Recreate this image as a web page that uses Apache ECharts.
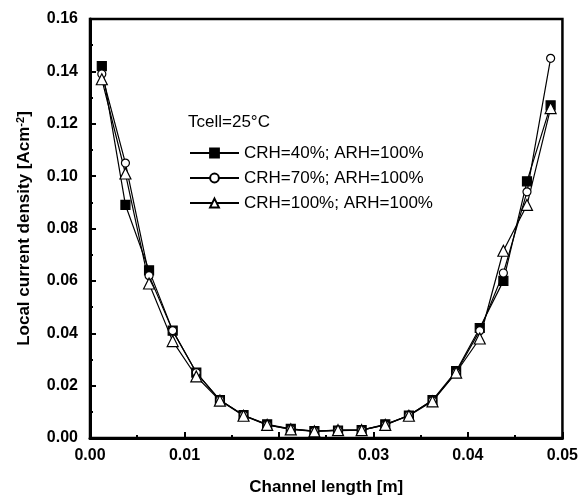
<!DOCTYPE html>
<html>
<head>
<meta charset="utf-8">
<script src="https://cdn.jsdelivr.net/npm/echarts@6/dist/echarts.min.js"></script>
<style>
html,body{margin:0;padding:0;background:#fff;}
#chart{width:581px;height:501px;}
</style>
</head>
<body>
<div id="chart"></div>
<script>
// Channel length positions [m]
var positions = [0.00125, 0.00375, 0.00625, 0.00875, 0.01125, 0.01375, 0.01625, 0.01875, 0.02125, 0.02375,
                 0.02625, 0.02875, 0.03125, 0.03375, 0.03625, 0.03875, 0.04125, 0.04375, 0.04625, 0.04875];
// Local current density [A cm^-2]
var crh40 = [0.142, 0.089, 0.064, 0.041, 0.025, 0.0145, 0.0087, 0.0052, 0.0035, 0.0026,
             0.0028, 0.0030, 0.0052, 0.0086, 0.0145, 0.0255, 0.042, 0.060, 0.098, 0.127];
var crh70 = [0.139, 0.105, 0.062, 0.041, 0.025, 0.0145, 0.0087, 0.0050, 0.0034, 0.0026,
             0.0030, 0.0030, 0.0050, 0.0087, 0.0143, 0.0250, 0.041, 0.063, 0.094, 0.145];
var crh100 = [0.137, 0.101, 0.059, 0.037, 0.0235, 0.0143, 0.0085, 0.0050, 0.0033, 0.0025,
              0.0030, 0.0030, 0.0050, 0.0085, 0.0140, 0.0250, 0.038, 0.0715, 0.089, 0.126];
var seriesNames = ['CRH=40%; ARH=100%', 'CRH=70%; ARH=100%', 'CRH=100%; ARH=100%'];
var xTicks = ['0.00', '0.01', '0.02', '0.03', '0.04', '0.05'];
var yTicks = ['0.00', '0.02', '0.04', '0.06', '0.08', '0.10', '0.12', '0.14', '0.16'];
var annotation = 'Tcell=25°C';

function pairs(xs, ys) { return xs.map(function (x, i) { return [x, ys[i]]; }); }

var chart = echarts.init(document.getElementById('chart'), null, {renderer: 'canvas'});
var font = 'Liberation Sans, Arial, sans-serif';
var black = '#000';

function lineSeries(name, data, symbol, size, fill) {
  return {
    name: name, type: 'line', data: data,
    symbol: symbol, symbolSize: size, showSymbol: true,
    lineStyle: {color: black, width: 1.2},
    itemStyle: {color: fill, borderColor: black, borderWidth: 1.2},
    emphasis: {disabled: true},
    animation: false, z: 3
  };
}

chart.setOption({
  backgroundColor: '#fff',
  animation: false,
  title: {
    text: annotation, left: 183, top: 109,
    textStyle: {fontFamily: font, fontSize: 17, fontWeight: 'normal', color: black}
  },
  legend: {
    orient: 'vertical', left: 184, top: 138,
    itemWidth: 49, itemHeight: 11, itemGap: 5,
    data: seriesNames,
    textStyle: {fontFamily: font, fontSize: 17, color: black, lineHeight: 20},
    selectedMode: false
  },
  grid: {
    left: 90, right: 11, top: 19, bottom: 61,
    show: true, borderColor: black, borderWidth: 2.5, backgroundColor: 'transparent'
  },
  xAxis: {
    type: 'value', min: 0, max: 0.05, interval: 0.01,
    name: 'Channel length [m]', nameLocation: 'middle', nameGap: 41,
    nameTextStyle: {fontFamily: font, fontSize: 17, fontWeight: 'bold', color: black},
    axisLine: {show: true, lineStyle: {color: black, width: 3}},
    axisTick: {show: true, inside: true, length: 6, lineStyle: {color: black, width: 2}},
    minorTick: {show: true, splitNumber: 2, length: 3, lineStyle: {color: black, width: 2}},
    splitLine: {show: false},
    axisLabel: {
      margin: 10, fontFamily: font, fontSize: 16, fontWeight: 'bold', color: black,
      formatter: function (v) { return xTicks[Math.round(v / 0.01)]; }
    }
  },
  yAxis: {
    type: 'value', min: 0, max: 0.16, interval: 0.02,
    name: 'Local current density [Acm{sup|-2}]', nameLocation: 'middle', nameGap: 56, nameRotate: 90,
    nameTextStyle: {
      fontFamily: font, fontSize: 17, fontWeight: 'bold', color: black, padding: [0, 0, 0, 0],
      rich: {sup: {fontFamily: font, fontSize: 11, fontWeight: 'bold', color: black, verticalAlign: 'top', padding: [0, 0, 8, 0]}}
    },
    axisLine: {show: true, lineStyle: {color: black, width: 3}},
    axisTick: {show: true, inside: true, length: 6, lineStyle: {color: black, width: 2}},
    minorTick: {show: true, splitNumber: 2, length: 3, lineStyle: {color: black, width: 2}},
    splitLine: {show: false},
    axisLabel: {
      margin: 12, fontFamily: font, fontSize: 16, fontWeight: 'bold', color: black,
      formatter: function (v) { return yTicks[Math.round(v / 0.02)]; }
    }
  },
  series: [
    lineSeries(seriesNames[0], pairs(positions, crh40), 'rect', 9, black),
    lineSeries(seriesNames[1], pairs(positions, crh70), 'circle', 8, '#fff'),
    lineSeries(seriesNames[2], pairs(positions, crh100), 'triangle', 11, '#fff')
  ]
});
</script>
</body>
</html>
